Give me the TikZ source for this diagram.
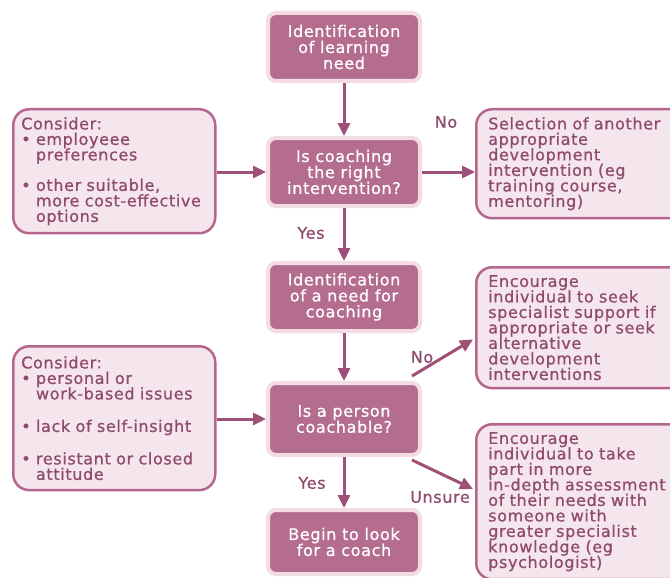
\documentclass[tikz,border=0pt]{standalone}
\usepackage{fontspec}
\setmainfont{DejaVu Sans}[LetterSpace=4.0,FakeBold=0.8]
\usetikzlibrary{arrows.meta}
\definecolor{mauve}{HTML}{B46C8F}
\definecolor{halo}{HTML}{F4DCE7}
\definecolor{pale}{HTML}{F5E5ED}
\definecolor{rim}{HTML}{B4668D}
\definecolor{arrowc}{HTML}{9E5078}
\definecolor{ink}{HTML}{8F4B6E}
\newcommand{\hng}{\phantom{\textbullet\ }}
\tikzset{
  stepbox/.style={rectangle, rounded corners=8pt, fill=mauve, draw=halo, line width=4pt,
    text=white, minimum width=152pt, minimum height=68pt, align=center,
    font=\fontsize{16}{16}\selectfont},
  notebox/.style={rectangle, rounded corners=16pt, fill=pale, draw=rim, line width=2.5pt,
    text=ink, anchor=north west, align=left, text width=186pt, inner xsep=8pt, inner ysep=8pt,
    font=\fontsize{16}{15.5}\selectfont},
  flow/.style={draw=arrowc, line width=3pt, -{Triangle[length=13pt,width=12pt]}},
  lbl/.style={text=ink, font=\fontsize{16}{16}\selectfont}
}
\begin{document}
\begin{tikzpicture}[x=1pt,y=-1pt]
\useasboundingbox[fill=white] (0,0) rectangle (670,578);
% middle column
\node[stepbox] (learn) at (344,47) {Identification\\of learning\\need};
\node[stepbox] (rightint) at (344,172) {Is coaching\\the right\\intervention?};
\node[stepbox] (needc) at (344,297) {Identification\\of a need for\\coaching};
\node[stepbox, minimum height=72pt] (coachable) at (344,419) {Is a person\\coachable?};
\node[stepbox, minimum height=64pt] (begin) at (344,542) {Begin to look\\for a coach};
% side notes
\node[notebox] (prefs) at (12,108) {Consider:\\\textbullet\ employeee\\\hng preferences\\[15pt]\textbullet\ other suitable,\\\hng more cost-effective\\\hng options};
\node[notebox, inner ysep=10pt] (issues) at (12,345) {Consider:\\\textbullet\ personal or\\\hng work-based issues\\[17pt]\textbullet\ lack of self-insight\\[17pt]\textbullet\ resistant or closed\\\hng attitude};
\node[notebox, inner xsep=12pt] (other) at (475,108) {Selection of another\\appropriate\\development\\intervention (eg\\training course,\\mentoring)};
\node[notebox, inner xsep=12pt] (seek) at (475,266) {Encourage\\individual to seek\\specialist support if\\appropriate or seek\\alternative\\development\\interventions};
\node[notebox, inner xsep=12pt] (assess) at (475,423) {Encourage\\individual to take\\part in more\\in-depth assessment\\of their needs with\\someone with\\greater specialist\\knowledge (eg\\psychologist)};
% connectors
\foreach \a/\b in {learn/rightint,rightint/needc,needc/coachable,coachable/begin}
  \draw[flow] (\a.south) -- (\b.north);
\draw[flow] (prefs.east |- rightint.west) -- (rightint.west);
\draw[flow] (issues.east |- coachable.west) -- (coachable.west);
\draw[flow] (rightint.east) -- (other.west |- rightint.east);
\draw[flow] ([shift={(-10pt,5pt)}]coachable.north east) -- ([shift={(-2pt,50pt)}]seek.south west);
\draw[flow] ([shift={(-10pt,-3pt)}]coachable.south east) -- ([shift={(-2pt,-66pt)}]assess.north west);
% labels
\node[lbl] (no1) at (446,122) {No};
\node[lbl] (yes1) at (311,233) {Yes};
\node[lbl] (no2) at (422,357) {No};
\node[lbl] (yes2) at (312,483) {Yes};
\node[lbl] (unsure) at (440,497) {Unsure};
\end{tikzpicture}
\end{document}
